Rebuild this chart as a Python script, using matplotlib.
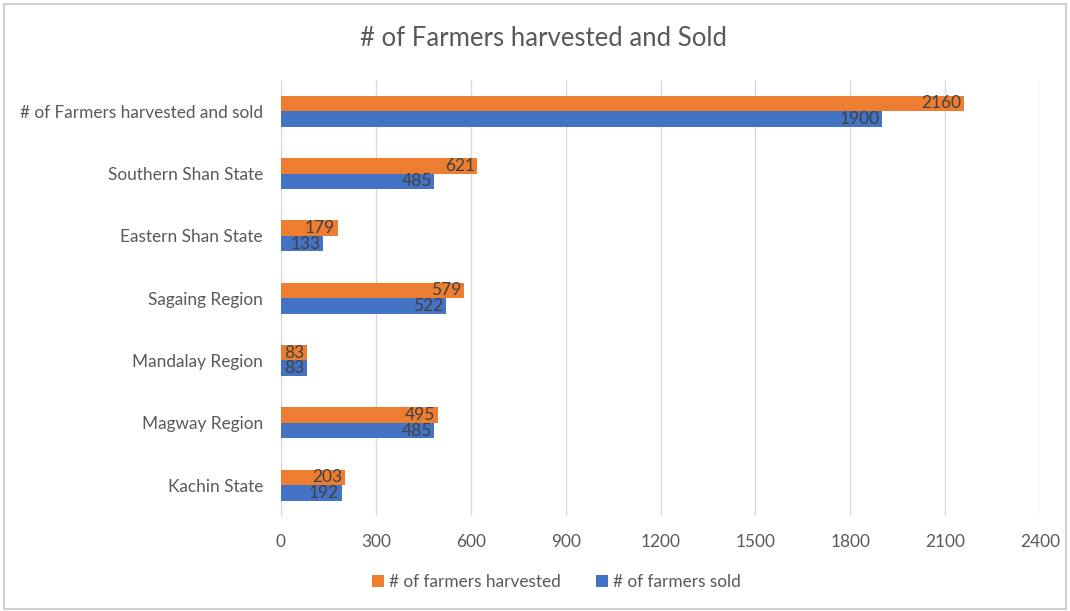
import matplotlib
matplotlib.use("Agg")
import matplotlib.pyplot as plt
import numpy as np
from matplotlib.patches import Rectangle

plt.rcParams['font.family'] = ['Lato', 'DejaVu Sans']

categories = ["Kachin State", "Magway Region", "Mandalay Region", "Sagaing Region",
              "Eastern Shan State", "Southern Shan State", "# of Farmers harvested and sold"]
harvested = [203, 495, 83, 579, 179, 621, 2160]
sold = [192, 485, 83, 522, 133, 485, 1900]
xticks = [0, 300, 600, 900, 1200, 1500, 1800, 2100, 2400]

orange = "#ED7D31"
blue = "#4472C4"
txt = "#595959"

fig = plt.figure(figsize=(10.7, 6.11), dpi=100)
ax = fig.add_axes([0.2626, 0.155, 0.7094, 0.714])

y = np.arange(len(categories))
h = 0.25
b1 = ax.barh(y + h / 2, harvested, height=h, color=orange, label="# of farmers harvested", zorder=3)
b2 = ax.barh(y - h / 2, sold, height=h, color=blue, label="# of farmers sold", zorder=3)

for bars, vals in ((b1, harvested), (b2, sold)):
    for rect, v in zip(bars, vals):
        ax.text(rect.get_width() - 8, rect.get_y() + rect.get_height() / 2, str(v),
                ha="right", va="center", fontsize=12.5, color="#404040", zorder=4)

ax.set_xlim(0, 2400)
ax.set_ylim(-0.5, len(categories) - 0.5)
ax.set_xticks(xticks)
ax.set_xticklabels([str(t) for t in xticks])
ax.set_yticks(y)
ax.set_yticklabels(categories)
ax.tick_params(axis="both", length=0, labelsize=12.4, labelcolor=txt)
ax.tick_params(axis="x", pad=13)
ax.tick_params(axis="y", pad=13)
ax.grid(axis="x", color="#D9D9D9", linewidth=1, zorder=0)
for s in ("top", "right", "bottom"):
    ax.spines[s].set_visible(False)
ax.spines["left"].set_color("#D9D9D9")

fig.text(0.508, 0.937, "# of Farmers harvested and Sold", ha="center", va="center",
         fontsize=18.5, color=txt)

handles, labels = ax.get_legend_handles_labels()
leg = fig.legend(handles, labels, loc="center", bbox_to_anchor=(0.52, 0.047), ncol=2,
                 frameon=False, fontsize=12.4, handlelength=0.7, handleheight=0.7,
                 columnspacing=2.0, handletextpad=0.3)
for t in leg.get_texts():
    t.set_color(txt)

fig.patches.append(Rectangle((0.004, 0.004), 0.992, 0.99, transform=fig.transFigure,
                             fill=False, edgecolor="#D0D0D0", linewidth=1.5))

fig.savefig("out.png", dpi=100)
